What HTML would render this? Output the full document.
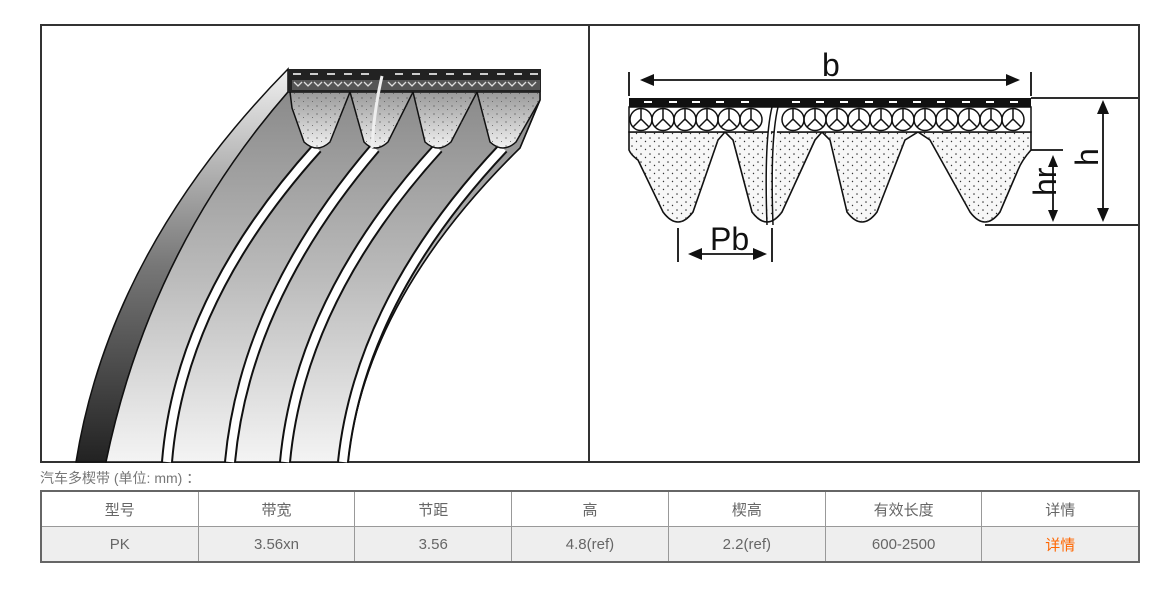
<!DOCTYPE html>
<html><head><meta charset="utf-8"><style>
body{margin:0;background:#fff;width:1174px;height:593px;overflow:hidden;font-family:"Liberation Sans","Noto Sans CJK SC",sans-serif}
svg{position:absolute;left:0;top:0}
.cap{position:absolute;left:40px;top:468px;font-size:14px;color:#777}
table{position:absolute;left:40px;top:490px;width:1100px;border-collapse:collapse;font-size:15px;color:#666;text-align:center}
td{border:1px solid #999;height:34px;padding:0;width:157px}
tr.g td{background:#eee}
table{border:2px solid #666}
</style></head><body>
<svg width="1174" height="593" viewBox="0 0 1174 593">
<defs>
<linearGradient id="side" x1="0" y1="0" x2="0" y2="1"><stop offset="0" stop-color="#f0f0f0"/><stop offset="0.5" stop-color="#777"/><stop offset="1" stop-color="#222"/></linearGradient>
<linearGradient id="face" x1="0" y1="0" x2="0" y2="1"><stop offset="0" stop-color="#8a8a8a"/><stop offset="0.5" stop-color="#bbb"/><stop offset="1" stop-color="#f4f4f4"/></linearGradient>
<linearGradient id="rib" x1="0" y1="0" x2="0" y2="1"><stop offset="0" stop-color="#999"/><stop offset="1" stop-color="#f2f2f2"/></linearGradient>
<pattern id="dots" width="9" height="8" patternUnits="userSpaceOnUse"><circle cx="2" cy="2" r="0.8" fill="#333"/><circle cx="6.5" cy="5.5" r="0.7" fill="#333"/></pattern>
<pattern id="dots2" width="9" height="8" patternUnits="userSpaceOnUse"><circle cx="2" cy="2" r="0.6" fill="#444"/><circle cx="6.5" cy="5.5" r="0.5" fill="#555"/></pattern>
</defs>
<rect x="41" y="25" width="1098" height="437" fill="#fff" stroke="#333" stroke-width="2"/>
<line x1="589" y1="25" x2="589" y2="462" stroke="#333" stroke-width="2"/>

<!-- left belt -->
<path d="M288,69 Q110,250 76,462 L106,462 Q150,250 288,92 Z" fill="url(#side)" stroke="#111" stroke-width="1.5"/>
<path d="M288,92 L540,92 L540,100 L520,148 Q365,300 348,462 L106,462 Q150,250 288,92 Z" fill="url(#face)" stroke="#111" stroke-width="1.5"/>
<g fill="none">
<path d="M317,148 Q180,300 167,462" stroke="#111" stroke-width="12"/>
<path d="M317,148 Q180,300 167,462" stroke="#fff" stroke-width="8"/>
<path d="M375,148 Q245,300 230,462" stroke="#111" stroke-width="12"/>
<path d="M375,148 Q245,300 230,462" stroke="#fff" stroke-width="8"/>
<path d="M438,148 Q300,300 285,462" stroke="#111" stroke-width="12"/>
<path d="M438,148 Q300,300 285,462" stroke="#fff" stroke-width="8"/>
<path d="M503,148 Q360,300 343,462" stroke="#111" stroke-width="12"/>
<path d="M503,148 Q360,300 343,462" stroke="#fff" stroke-width="8"/>
</g>
<path d="M540,100 L520,148 Q365,300 348,462" stroke="#111" stroke-width="1.5" fill="none"/>
<g stroke="#111" stroke-width="1.5">
<path d="M290,92 L350,92 L330,142 Q317,154 304,142 L292,108 Z" fill="url(#rib)"/>
<path d="M350,92 L413,92 L388,142 Q375,154 364,142 Z" fill="url(#rib)"/>
<path d="M413,92 L477,92 L451,142 Q438,154 425,142 Z" fill="url(#rib)"/>
<path d="M477,92 L540,92 L540,100 L516,142 Q503,154 490,142 Z" fill="url(#rib)"/>
</g>
<path d="M290,92 L540,92 L540,100 L516,142 Q503,154 490,142 L477,95 L451,142 Q438,154 425,142 L413,95 L388,142 Q375,154 364,142 L350,95 L330,142 Q317,154 304,142 L292,108Z" fill="url(#dots2)"/>
<rect x="288" y="69" width="253" height="23" fill="#222"/>
<g stroke="#ccc" stroke-width="2">
<path d="M293,74h8M310,74h8M327,74h8M344,74h8M361,74h8M395,74h8M412,74h8M429,74h8M446,74h8M463,74h8M480,74h8M497,74h8M514,74h8M530,74h8"/>
</g>
<path d="M292,80h248v10h-248z" fill="#555"/>
<g stroke="#ddd" stroke-width="1.3" fill="none">
<path d="M294,82l4,4l4,-4M304,82l4,4l4,-4M314,82l4,4l4,-4M324,82l4,4l4,-4M334,82l4,4l4,-4M344,82l4,4l4,-4M354,82l4,4l4,-4M364,82l4,4l4,-4M388,82l4,4l4,-4M398,82l4,4l4,-4M408,82l4,4l4,-4M418,82l4,4l4,-4M428,82l4,4l4,-4M438,82l4,4l4,-4M448,82l4,4l4,-4M458,82l4,4l4,-4M468,82l4,4l4,-4M478,82l4,4l4,-4M488,82l4,4l4,-4M498,82l4,4l4,-4M508,82l4,4l4,-4M518,82l4,4l4,-4M528,82l4,4l4,-4"/>
</g>
<path d="M382,76 Q374,110 372,148" stroke="#eee" stroke-width="3" fill="none"/>

<!-- right diagram -->
<g stroke="#111" fill="none" stroke-width="1.8">
<line x1="629" y1="72" x2="629" y2="96"/><line x1="1031" y1="72" x2="1031" y2="96"/>
<line x1="644" y1="80" x2="1016" y2="80"/>
<line x1="1031" y1="98" x2="1138" y2="98"/><line x1="985" y1="225" x2="1138" y2="225"/>
<line x1="1103" y1="112" x2="1103" y2="212"/>
<line x1="1020" y1="150" x2="1063" y2="150"/>
<line x1="1053" y1="165" x2="1053" y2="212"/>
<line x1="678" y1="228" x2="678" y2="262"/><line x1="772" y1="228" x2="772" y2="262"/>
<line x1="700" y1="254" x2="754" y2="254"/>
</g>
<g fill="#111">
<path d="M640,80l14,-6v12z"/><path d="M1020,80l-14,-6v12z"/>
<path d="M1103,100l-6,14h12z"/><path d="M1103,222l-6,-14h12z"/>
<path d="M1053,155l-5,12h10z"/><path d="M1053,222l-5,-12h10z"/>
<path d="M688,254l14,-6v12z"/><path d="M767,254l-14,-6v12z"/>
</g>
<path d="M629,132 L1031,132 L1031,150 Q1022,160 1018,170 L1000,212 Q985,232 970,212 L930,140 L918,132 L905,140 L877,212 Q862,232 847,212 L830,140 L822,132 L815,140 L782,212 Q767,232 752,212 L733,140 L725,132 L718,140 L693,212 Q678,232 663,212 L638,160 Q631,155 629,150 Z" fill="#f7f7f7" stroke="#111" stroke-width="1.6"/>
<path d="M629,132 L1031,132 L1031,150 Q1022,160 1018,170 L1000,212 Q985,232 970,212 L930,140 L918,132 L905,140 L877,212 Q862,232 847,212 L830,140 L822,132 L815,140 L782,212 Q767,232 752,212 L733,140 L725,132 L718,140 L693,212 Q678,232 663,212 L638,160 Q631,155 629,150 Z" fill="url(#dots)"/>
<rect x="629" y="98" width="402" height="9" fill="#111"/>
<g stroke="#fff" stroke-width="2"><path d="M644,102h8M669,102h8M692,102h8M716,102h8M741,102h8M792,102h8M816,102h8M840,102h8M865,102h8M889,102h8M913,102h8M937,102h8M962,102h8M986,102h8M1010,102h8"/></g>
<rect x="629" y="107" width="402" height="25" fill="#fff" stroke="#111" stroke-width="1.5"/>
<g fill="none" stroke="#111" stroke-width="1.5">
<circle cx="641" cy="119.5" r="11"/><circle cx="663" cy="119.5" r="11"/><circle cx="685" cy="119.5" r="11"/><circle cx="707" cy="119.5" r="11"/><circle cx="729" cy="119.5" r="11"/><circle cx="751" cy="119.5" r="11"/><circle cx="793" cy="119.5" r="11"/><circle cx="815" cy="119.5" r="11"/><circle cx="837" cy="119.5" r="11"/><circle cx="859" cy="119.5" r="11"/><circle cx="881" cy="119.5" r="11"/><circle cx="903" cy="119.5" r="11"/><circle cx="925" cy="119.5" r="11"/><circle cx="947" cy="119.5" r="11"/><circle cx="969" cy="119.5" r="11"/><circle cx="991" cy="119.5" r="11"/><circle cx="1013" cy="119.5" r="11"/>
<path d="M641,109v10l-8,8M641,119l8,8M663,109v10l-8,8M663,119l8,8M685,109v10l-8,8M685,119l8,8M707,109v10l-8,8M707,119l8,8M729,109v10l-8,8M729,119l8,8M751,109v10l-8,8M751,119l8,8M793,109v10l-8,8M793,119l8,8M815,109v10l-8,8M815,119l8,8M837,109v10l-8,8M837,119l8,8M859,109v10l-8,8M859,119l8,8M881,109v10l-8,8M881,119l8,8M903,109v10l-8,8M903,119l8,8M925,109v10l-8,8M925,119l8,8M947,109v10l-8,8M947,119l8,8M969,109v10l-8,8M969,119l8,8M991,109v10l-8,8M991,119l8,8M1013,109v10l-8,8M1013,119l8,8"/>
</g>
<path d="M772,107 Q764,140 767,225 M778,107 Q770,140 773,225" stroke="#111" stroke-width="1.5" fill="#fff"/>
<g font-family="Liberation Sans, sans-serif" fill="#111" font-size="32">
<text x="822" y="76">b</text>
<text x="710" y="250">Pb</text>
<text transform="translate(1098,166) rotate(-90)">h</text>
<text transform="translate(1056,196) rotate(-90)">hr</text>
</g>
</svg>
<div class="cap">汽车多楔带 (单位: mm) ：</div>
<table>
<tr><td>型号</td><td>带宽</td><td>节距</td><td>高</td><td>楔高</td><td>有效长度</td><td>详情</td></tr>
<tr class="g"><td>PK</td><td>3.56xn</td><td>3.56</td><td>4.8(ref)</td><td>2.2(ref)</td><td>600-2500</td><td style="color:#f60">详情</td></tr>
</table>
</body></html>
